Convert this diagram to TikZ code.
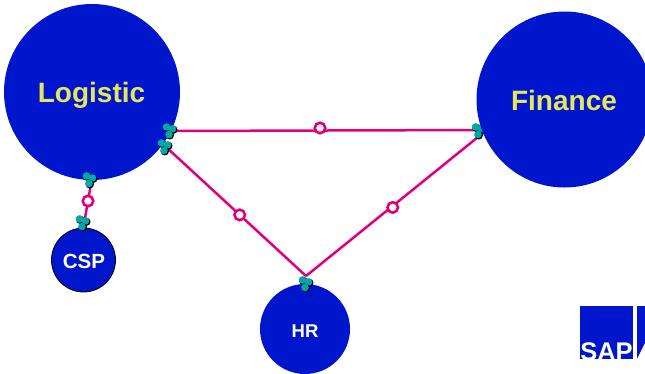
\documentclass[tikz,border=0pt]{standalone}
\usepackage{fontspec}
\setmainfont{Liberation Sans}
\definecolor{sapblue}{HTML}{0016CC}
\definecolor{linkpink}{HTML}{E0007F}
\definecolor{labelyellow}{HTML}{E6E65A}
\definecolor{dotteal}{HTML}{00A8A8}
\tikzset{
  system/.style={circle, fill=sapblue, inner sep=0pt},
  systemtext/.style={inner sep=0pt, text=white, font=\bfseries\fontsize{#1}{#1}\selectfont},
  link/.style={draw=linkpink, line width=2.5pt},
  ring/.style={circle, draw=linkpink, fill=white, line width=2.6pt, inner sep=0pt, minimum size=10.5pt},
  pics/dotcluster/.style={code={
    \foreach \x/\y in {-3.5/-3, 2.5/-1, -1/4.5} {
      \fill [black] (\x+.8, \y+.8) circle (4.2pt);
      \fill [dotteal] (\x, \y) circle (3.8pt);
    }
  }}
}
\begin{document}
\begin{tikzpicture}[x=1pt, y=-1pt]
\useasboundingbox (0, 0) rectangle (645, 373);

\node [system, minimum size=176pt] (logistic) at (92, 92) {};
\node [system, minimum size=64pt, draw=black, line width=.8pt] (csp) at (83.5, 260) {};
\node [system, minimum size=90pt] (hr) at (305, 329) {};

\coordinate (logisticA) at (170, 131);
\coordinate (logisticB) at (165, 146);
\coordinate (logisticC) at (92, 178);
\coordinate (financeA) at (482, 130);
\coordinate (financeB) at (483, 133);
\coordinate (hrA) at (306, 276);
\coordinate (cspA) at (84, 224);

\draw [link] (logisticA) -- (financeA);
\draw [link] (logisticB) -- node [ring, pos=.53] (ringLeft) {} (hrA);
\draw [link] (financeB) -- node [ring, pos=.51, yshift=-1.5pt] (ringRight) {} (hrA);
\draw [link] (logisticC) -- node [ring, pos=.5] (ringCsp) {} (cspA);
\node [ring] (ringTop) at (320, 128) {};

\pic at (170, 130) {dotcluster};
\pic at (165, 146) {dotcluster};
\pic at (90, 179) {dotcluster};
\pic at (83, 222) {dotcluster};
\pic at (306, 283) {dotcluster};
\pic at (479, 130) {dotcluster};

\node [system, minimum size=176pt] (finance) at (564.5, 99.5) {};

\node [systemtext=28, text=labelyellow] (logisticText) at (91.5, 95) {Logistic};
\node [systemtext=28, text=labelyellow] (financeText) at (564, 100) {Finance};
\node [systemtext=20.5] (cspText) at (84, 261) {CSP};
\node [systemtext=18.5] (hrText) at (305, 331) {HR};

% logo
\fill [sapblue] (580, 306) rectangle (633, 359);
\fill [sapblue] (637, 306) -- (645, 306) -- (645, 359) -- (637, 359) -- cycle;
\fill [white] (637, 359) -- (645, 343) -- (645, 359) -- cycle;
\node [anchor=base, inner sep=0pt, text=white, font=\bfseries\fontsize{25.5}{26}\selectfont] (sapText) at (606.5, 360) {SAP};
\end{tikzpicture}
\end{document}
